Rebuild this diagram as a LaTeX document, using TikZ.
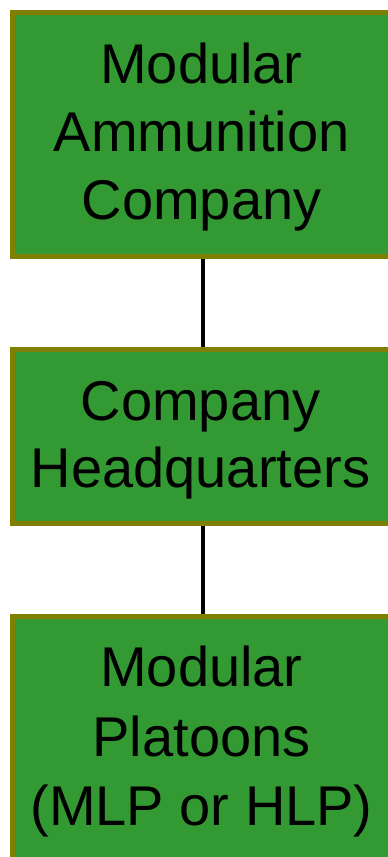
\documentclass[tikz,border=0pt]{standalone}
\usepackage{fontspec}
\setmainfont{Liberation Sans}
\definecolor{boxgreen}{HTML}{339933}
\definecolor{boxolive}{HTML}{808000}
\begin{document}
\begin{tikzpicture}[x=1pt,y=-1pt,
  unitbox/.style={rectangle, draw=boxolive, fill=boxgreen, line width=5pt, inner sep=0pt, minimum width=380pt},
  label/.style={anchor=base, inner sep=0pt, font=\fontsize{56}{68}\selectfont},
  link/.style={line width=4pt, black}]
\useasboundingbox (0,0) rectangle (388,857);
\clip (0,0) rectangle (388,857);
\node[unitbox, minimum height=244pt] (b1) at (202.5,134.5) {};
\node[unitbox, minimum height=174pt] (b2) at (202.5,436.5) {};
\node[unitbox, minimum height=283.5pt] (b3) at (202.5,758.25) {};
\draw[link] (b1.south) -- (b2.north);
\draw[link] (b2.south) -- (b3.north);
\node[label] (t11) at (201.5,83.3) {Modular};
\node[label] (t12) at (201.5,151) {Ammunition};
\node[label] (t13) at (201.5,219.5) {Company};
\node[label] (t21) at (200.5,420) {Company};
\node[label] (t22) at (200.5,487.5) {Headquarters};
\node[label] (t31) at (201.5,686.7) {Modular};
\node[label] (t32) at (201.5,756.5) {Platoons};
\node[label] (t33) at (201.5,825) {(MLP or HLP)};
\end{tikzpicture}
\end{document}
